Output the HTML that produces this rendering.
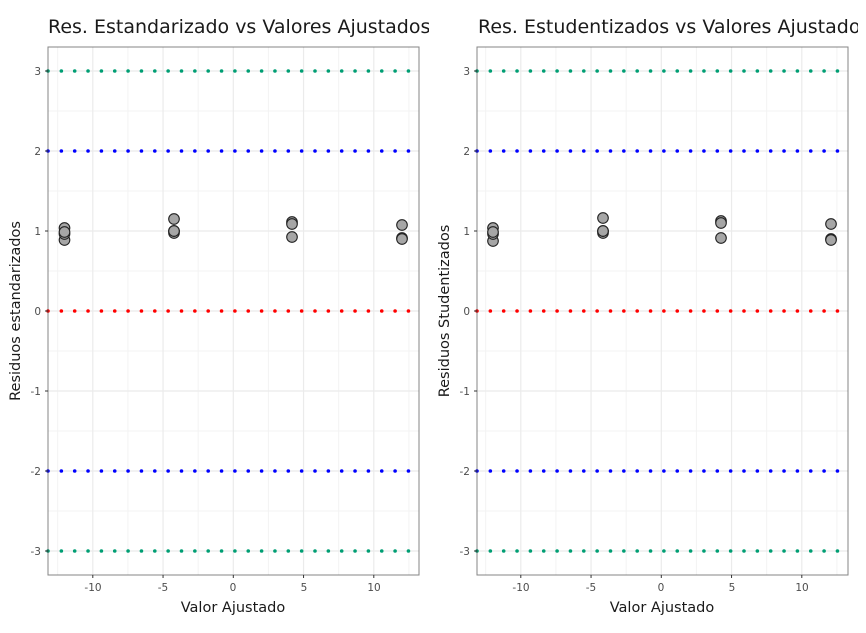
<!DOCTYPE html>
<html><head><meta charset="utf-8"><style>
body{margin:0;background:#fff}
svg text{font-family:"DejaVu Sans","Liberation Sans",sans-serif}
.t{font-size:19px;fill:#1a1a1a}
.tk{font-size:10.5px;fill:#4d4d4d}
.lb{font-size:14.5px;fill:#1a1a1a}
</style></head><body>
<svg id="s" width="866" height="628" xmlns="http://www.w3.org/2000/svg">
<defs>
<clipPath id="c1"><rect x="0" y="0" width="429" height="628"/></clipPath>
<clipPath id="c2"><rect x="430" y="0" width="428" height="628"/></clipPath>
</defs>
<g id="g1"></g><g id="g2"></g>
<text class="t" x="48" y="33" clip-path="url(#c1)">Res. Estandarizado vs Valores Ajustados</text>
<text class="t" x="478" y="33" clip-path="url(#c2)">Res. Estudentizados vs Valores Ajustados</text>
<g class="tk" text-anchor="end">
<text x="41" y="75">3</text><text x="41" y="155">2</text><text x="41" y="235">1</text><text x="41" y="315">0</text><text x="41" y="395">-1</text><text x="41" y="475">-2</text><text x="41" y="555">-3</text>
<text x="470" y="75">3</text><text x="470" y="155">2</text><text x="470" y="235">1</text><text x="470" y="315">0</text><text x="470" y="395">-1</text><text x="470" y="475">-2</text><text x="470" y="555">-3</text>
</g>
<g class="tk" text-anchor="middle">
<text x="93" y="591">-10</text><text x="163" y="591">-5</text><text x="233" y="591">0</text><text x="304" y="591">5</text><text x="374" y="591">10</text>
<text x="521" y="591">-10</text><text x="591" y="591">-5</text><text x="661" y="591">0</text><text x="732" y="591">5</text><text x="802" y="591">10</text>
</g>
<text class="lb" x="233" y="612" text-anchor="middle">Valor Ajustado</text>
<text class="lb" x="662" y="612" text-anchor="middle">Valor Ajustado</text>
<text class="lb" transform="translate(20,311) rotate(-90)" text-anchor="middle">Residuos estandarizados</text>
<text class="lb" transform="translate(449,311) rotate(-90)" text-anchor="middle">Residuos Studentizados</text>
</svg>
<script>
function panel(id,L,R,x0,pts){
 var g=document.getElementById(id),h='';
 var sx=14.05,T=47,B=575;
 function X(v){return x0+v*sx} function Y(v){return 311-v*80}
 for(var v=-12.5;v<=12.5;v+=5)h+='<line x1="'+X(v)+'" x2="'+X(v)+'" y1="'+T+'" y2="'+B+'" stroke="#f3f3f3" stroke-width="1"/>';
 for(var v=-2.5;v<=2.5;v+=1)h+='<line x1="'+L+'" x2="'+R+'" y1="'+Y(v)+'" y2="'+Y(v)+'" stroke="#f3f3f3" stroke-width="1"/>';
 for(var v=-10;v<=10;v+=5)h+='<line x1="'+X(v)+'" x2="'+X(v)+'" y1="'+T+'" y2="'+B+'" stroke="#ebebeb" stroke-width="1.2"/>';
 for(var v=-3;v<=3;v++)h+='<line x1="'+L+'" x2="'+R+'" y1="'+Y(v)+'" y2="'+Y(v)+'" stroke="#ebebeb" stroke-width="1.2"/>';
 var lines=[[3,'#009e73'],[2,'#0000ff'],[0,'#ff0000'],[-2,'#0000ff'],[-3,'#009e73']];
 lines.forEach(function(l){h+='<line x1="'+L+'" x2="'+(R-5)+'" y1="'+Y(l[0])+'" y2="'+Y(l[0])+'" stroke="'+l[1]+'" stroke-width="3.6" stroke-linecap="round" stroke-dasharray="0 13.35"/>';});
 h+='<rect x="'+L+'" y="'+T+'" width="'+(R-L)+'" height="'+(B-T)+'" fill="none" stroke="#333" stroke-opacity="0.6" stroke-width="1"/>';
 for(var v=-3;v<=3;v++)h+='<line x1="'+(L-3)+'" x2="'+L+'" y1="'+Y(v)+'" y2="'+Y(v)+'" stroke="#333"/>';
 for(var v=-10;v<=10;v+=5)h+='<line x1="'+X(v)+'" x2="'+X(v)+'" y1="'+B+'" y2="'+(B+3)+'" stroke="#333"/>';
 pts.forEach(function(p){h+='<circle cx="'+p[0]+'" cy="'+p[1]+'" r="5.3" fill="#a6a6a6" stroke="#222" stroke-width="1.1"/>';});
 g.innerHTML=h;
}
panel('g1',48,419,233.3,[[64.5,228],[64.5,240],[64.5,234],[64.5,232],[174,219],[174,233],[174,231],[174,231],[292,222],[292,224],[292,237],[402,225],[402,238],[402,239]]);
panel('g2',477,848,661.3,[[493,228],[493,241],[493,234],[493,232],[603,218],[603,233],[603,231],[603,231],[721,221],[721,223],[721,238],[831,224],[831,239],[831,240]]);
</script>
</body></html>
